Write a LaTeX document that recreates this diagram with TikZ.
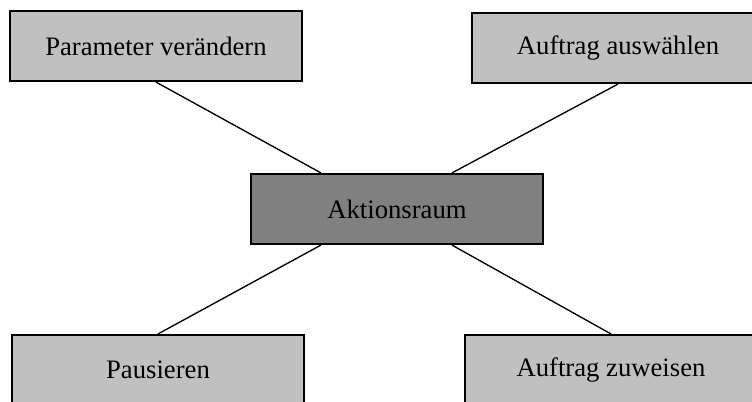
\documentclass[tikz,border=0pt]{standalone}
\usepackage{fontspec}
\setmainfont{Liberation Serif}
\usetikzlibrary{calc}

\begin{document}
\begin{tikzpicture}[x=0.75pt,y=-0.75pt,
    box/.style={draw,line width=1.6pt,fill=boxgray,minimum width=219pt,
        minimum height=52.5pt,inner sep=0pt,
        font=\fontsize{20}{24}\selectfont},
    link/.style={line width=1pt}]
    \definecolor{boxgray}{HTML}{C0C0C0}
    \definecolor{hubgray}{HTML}{808080}
    \useasboundingbox (0,0) rectangle (752,401);
    \clip (0,0) rectangle (752,401);

    % the hub in the middle
    \node[box,fill=hubgray] (aktion) at (397,209) {Aktionsraum};

    % the four actions around it
    \node[box] (parameter) at (156,46) {Parameter verändern};
    \node[box] (auswahl) at (618,48) {Auftrag auswählen};
    \node[box] (pause) at (158,370) {Pausieren};
    \node[box] (zuweisen) at (611,370) {Auftrag zuweisen};

    % where the links meet the hub
    \coordinate (a-nw) at ($(aktion.north west)+(71,0)$);
    \coordinate (a-ne) at ($(aktion.north west)+(202,0)$);
    \coordinate (a-sw) at ($(aktion.south west)+(71,0)$);
    \coordinate (a-se) at ($(aktion.south west)+(202,0)$);

    \draw[link] (parameter.south) -- (a-nw);
    \draw[link] (auswahl.south) -- (a-ne);
    \draw[link] (pause.north) -- (a-sw);
    \draw[link] (zuweisen.north) -- (a-se);
\end{tikzpicture}
\end{document}
